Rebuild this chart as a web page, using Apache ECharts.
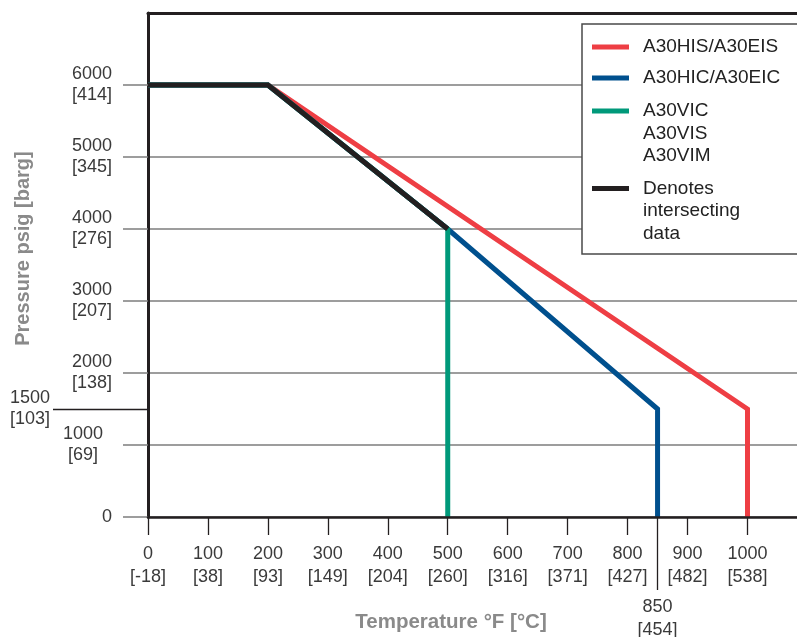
<!DOCTYPE html>
<html><head><meta charset="utf-8">
<script src="https://cdn.jsdelivr.net/npm/echarts@6/dist/echarts.min.js"></script>
<style>html,body{margin:0;padding:0;background:#fff}#c{width:797px;height:637px}</style>
</head><body><div id="c"></div>
<script>
// ---- data ----
const xTicksF = [0,100,200,300,400,500,600,700,800,900,1000];
const xTicksC = [-18,38,93,149,204,260,316,371,427,482,538];
const xExtraF = [850];
const xExtraC = [454];
const yTicksPsig = [0,1000,2000,3000,4000,5000,6000];
const yTicksBarg = [null,69,138,207,276,345,414];
const yExtraPsig = [1500];
const yExtraBarg = [103];
const seriesNames = ['A30HIS/A30EIS','A30HIC/A30EIC','A30VIC\nA30VIS\nA30VIM','Denotes\nintersecting\ndata'];
const redTemp = [0,200,1000,1000];
const redPress = [6000,6000,1500,0];
const blueTemp = [0,200,500,850,850];
const bluePress = [6000,6000,4000,1500,0];
const greenTemp = [0,200,500,500];
const greenPress = [6000,6000,4000,0];
const blackTemp = [0,200,500];
const blackPress = [6000,6000,4000];
const colors = ['#ee3e44','#00508e','#00997a','#231f20'];

const FONT = '"Liberation Sans", Arial, Helvetica, sans-serif';
const TXT = '#3a3a3a';
const pair = (a,b) => a.map((v,i)=>[v,b[i]]);

function xFmt(v){
  let i = xTicksF.indexOf(v);
  if (i >= 0) return v + '\n[' + xTicksC[i] + ']';
  i = xExtraF.indexOf(v);
  if (i >= 0) return v + '\n[' + xExtraC[i] + ']';
  return '';
}
function yFmt(v){
  let i = yTicksPsig.indexOf(v);
  if (i >= 0) return yTicksBarg[i] == null ? String(v) : v + '\n[' + yTicksBarg[i] + ']';
  i = yExtraPsig.indexOf(v);
  if (i >= 0) return v + '\n[' + yExtraBarg[i] + ']';
  return '';
}
const lblBase = {color: TXT, fontSize: 18, fontFamily: FONT, lineHeight: 22, formatter: null};

const chart = echarts.init(document.getElementById('c'));
const grid = {left: 148, right: 0, top: 13, bottom: 120, outerBoundsMode: 'none', containLabel: false};

const xBase = {type: 'value', min: 0, max: 1082.6, splitLine: {show: false}};
const yBase = {type: 'value', min: 0, max: 7000, interval: 1000, position: 'left'};

const legendItem = (i, top, multi) => ({
  left: 592, top: top, orient: 'vertical', padding: 0, z: 8,
  selectedMode: false, icon: 'rect', itemWidth: 37, itemHeight: 5,
  itemStyle: {borderWidth: 0},
  data: [{name: seriesNames[i]}],
  formatter: multi ? (name => '\n\n' + name) : (name => name),
  textStyle: {color: '#222', fontSize: 19, fontFamily: FONT, lineHeight: 22.5, padding: [0, 0, 0, 9]}
});

const seriesDefs = [
  [redTemp, redPress], [blueTemp, bluePress], [greenTemp, greenPress], [blackTemp, blackPress]
];

chart.setOption({
  animation: false,
  backgroundColor: '#fff',
  grid: grid,
  xAxis: [
    Object.assign({}, xBase, {
      position: 'bottom', z: 5,
      axisLine: {show: true, onZero: false, lineStyle: {color: '#231f20', width: 2.5}},
      axisTick: {show: true, customValues: xTicksF, length: 18, lineStyle: {color: '#231f20', width: 1.3}},
      axisLabel: Object.assign({}, lblBase, {customValues: xTicksF, margin: 26, lineHeight: 23, formatter: xFmt})
    }),
    Object.assign({}, xBase, {
      position: 'bottom', z: 5,
      axisLine: {show: false},
      axisTick: {show: true, customValues: xExtraF, length: 73, lineStyle: {color: '#231f20', width: 1.3}},
      axisLabel: Object.assign({}, lblBase, {customValues: xExtraF, margin: 79, lineHeight: 23, formatter: xFmt})
    }),
    Object.assign({}, xBase, {
      position: 'top', z: 5,
      axisLine: {show: true, onZero: false, lineStyle: {color: '#231f20', width: 3}},
      axisTick: {show: false}, axisLabel: {show: false}
    })
  ],
  yAxis: [
    Object.assign({}, yBase, {
      z: 0,
      axisLine: {show: true, onZero: false, lineStyle: {color: '#231f20', width: 3}},
      axisTick: {show: true, customValues: yTicksPsig, length: 25, lineStyle: {color: '#7d7d7d', width: 1.5}},
      splitLine: {show: true, lineStyle: {color: '#7d7d7d', width: 1.5}},
      axisLabel: Object.assign({}, lblBase, {customValues: [0,2000,3000,4000,5000,6000], align: 'right', margin: 36, lineHeight: 21, formatter: yFmt})
    }),
    Object.assign({}, yBase, {
      axisLine: {show: false}, axisTick: {show: false}, splitLine: {show: false},
      axisLabel: Object.assign({}, lblBase, {customValues: [1000], align: 'center', margin: 65, lineHeight: 21, formatter: yFmt})
    }),
    Object.assign({}, yBase, {
      z: 5,
      axisLine: {show: false}, splitLine: {show: false},
      axisTick: {show: true, customValues: yExtraPsig, length: 95, lineStyle: {color: '#231f20', width: 1.3}},
      axisLabel: Object.assign({}, lblBase, {customValues: yExtraPsig, align: 'right', margin: 98, lineHeight: 21, formatter: yFmt})
    })
  ],
  legend: [
    legendItem(0, 47 - 11.25, false),
    legendItem(1, 78 - 11.25, false),
    legendItem(2, 111 - 56.25, true),
    legendItem(3, 188.5 - 56.25, true)
  ],
  series: seriesDefs.map((d, i) => ({
    type: 'line', name: seriesNames[i], data: pair(d[0], d[1]),
    xAxisIndex: 0, yAxisIndex: 0, symbol: 'none', showSymbol: false, z: 2 + i * 0.01,
    itemStyle: {color: colors[i]},
    lineStyle: {color: colors[i], width: 5, join: 'miter', cap: 'butt'},
    emphasis: {disabled: true}, silent: true
  })),
  graphic: [
    {type: 'rect', z: 3, shape: {x: 582, y: 24, width: 240, height: 230},
     style: {fill: '#fff', stroke: '#4a4a4a', lineWidth: 1.5}},
    {type: 'text', z: 3, x: 23, y: 248.5, rotation: Math.PI / 2,
     style: {text: 'Pressure psig [barg]', fontSize: 20, fontWeight: 'bold', fontFamily: FONT,
       fill: '#8a8a8a', align: 'center', verticalAlign: 'middle'}},
    {type: 'text', z: 3, x: 451, y: 622,
     style: {text: 'Temperature °F [°C]', fontSize: 20.5, fontWeight: 'bold', fontFamily: FONT,
       fill: '#8a8a8a', align: 'center', verticalAlign: 'middle'}}
  ]
});
</script></body></html>
